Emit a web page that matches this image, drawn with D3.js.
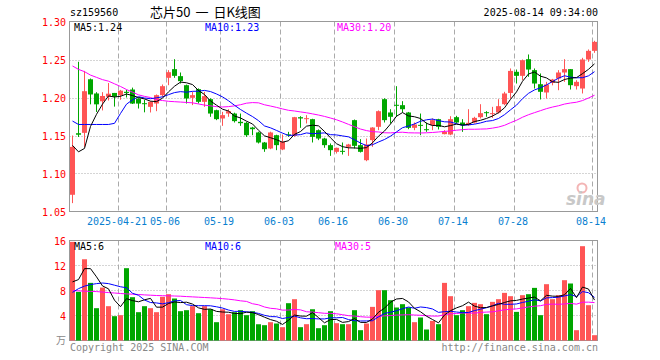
<!DOCTYPE html>
<html><head><meta charset="utf-8">
<script src="https://cdn.jsdelivr.net/npm/d3@7/dist/d3.min.js"></script>
<style>
body{margin:0;background:#fff;}
svg{display:block;}
text{font-family:"DejaVu Sans Mono",monospace;font-size:10px;}
</style>
</head><body>
<svg id="c" width="660" height="360"></svg>
<script>
const dates = [
 "2025-04-09","2025-04-10","2025-04-11","2025-04-14","2025-04-15","2025-04-16","2025-04-17","2025-04-18","2025-04-21","2025-04-22","2025-04-23","2025-04-24","2025-04-25","2025-04-28","2025-04-29","2025-04-30",
 "2025-05-06","2025-05-07","2025-05-08","2025-05-09","2025-05-12","2025-05-13","2025-05-14","2025-05-15","2025-05-16","2025-05-19","2025-05-20","2025-05-21","2025-05-22","2025-05-23","2025-05-26","2025-05-27","2025-05-28","2025-05-29","2025-05-30",
 "2025-06-03","2025-06-04","2025-06-05","2025-06-06","2025-06-09","2025-06-10","2025-06-11","2025-06-12","2025-06-13","2025-06-16","2025-06-17","2025-06-18","2025-06-19","2025-06-20","2025-06-23","2025-06-24","2025-06-25","2025-06-26","2025-06-27","2025-06-30",
 "2025-07-01","2025-07-02","2025-07-03","2025-07-04","2025-07-07","2025-07-08","2025-07-09","2025-07-10","2025-07-11","2025-07-14","2025-07-15","2025-07-16","2025-07-17","2025-07-18","2025-07-21","2025-07-22","2025-07-23","2025-07-24","2025-07-25","2025-07-28","2025-07-29","2025-07-30","2025-07-31",
 "2025-08-01","2025-08-04","2025-08-05","2025-08-06","2025-08-07","2025-08-08","2025-08-11","2025-08-12","2025-08-13","2025-08-14"];

const open = [1.072,1.153,1.1535,1.224,1.2053,1.195,1.201,1.206,1.203,1.2075,1.2105,1.1987,1.1925,1.1877,1.1921,1.2031,
 1.2259,1.2373,1.2281,1.2162,1.1996,1.211,1.1943,1.1978,1.1833,1.1724,1.1789,1.1789,1.168,1.1667,1.1605,1.154,1.1408,1.1329,1.1504,
 1.1316,1.1515,1.1496,1.1741,1.1718,1.1715,1.157,1.146,1.1373,1.1285,1.1298,1.1351,1.1702,1.1373,1.1175,1.1439,1.1614,1.1978,1.1803,1.1904,
 1.1899,1.1803,1.1601,1.164,1.1583,1.1636,1.1715,1.1518,1.1513,1.1741,1.1671,1.1636,1.1671,1.1741,1.1807,1.1785,1.1803,1.1912,1.206,1.2338,1.2285,1.2504,1.236,
 1.2175,1.2066,1.2193,1.225,1.2329,1.2373,1.2149,1.2118,1.25,1.2614];
const high = [1.150,1.247,1.235,1.225,1.207,1.207,1.219,1.206,1.210,1.210,1.213,1.199,1.197,1.195,1.204,1.2171,
 1.236,1.2504,1.2329,1.217,1.2075,1.212,1.2075,1.199,1.184,1.1811,1.1846,1.18,1.1789,1.168,1.1614,1.155,1.1415,1.155,1.151,
 1.1513,1.1548,1.1745,1.1754,1.1768,1.172,1.158,1.147,1.1395,1.134,1.1408,1.139,1.171,1.1452,1.146,1.161,1.183,1.199,1.1846,1.2149,
 1.1952,1.181,1.1671,1.1789,1.1671,1.1724,1.172,1.157,1.1754,1.1759,1.1715,1.1846,1.1746,1.1912,1.182,1.1877,1.1978,1.2075,1.2382,1.2368,1.25,1.2566,1.2382,
 1.2316,1.2206,1.2245,1.236,1.2504,1.2375,1.2228,1.2522,1.2632,1.2746];
const low = [1.061,1.148,1.135,1.191,1.181,1.183,1.196,1.188,1.197,1.200,1.1915,1.1855,1.1805,1.1803,1.182,1.201,
 1.2162,1.2259,1.2184,1.1921,1.19,1.1921,1.1877,1.1746,1.1702,1.1627,1.1746,1.1671,1.1627,1.1482,1.1504,1.1395,1.1285,1.132,1.1307,
 1.1307,1.1482,1.1482,1.1601,1.1658,1.1408,1.1439,1.1338,1.1232,1.1263,1.125,1.1232,1.1329,1.1276,1.1162,1.1351,1.157,1.1671,1.1658,1.1746,
 1.1803,1.1583,1.157,1.1504,1.1548,1.157,1.1579,1.1515,1.1504,1.1658,1.1548,1.1627,1.1658,1.1724,1.1746,1.1732,1.1789,1.1899,1.1987,1.2184,1.2228,1.2272,1.2118,
 1.1974,1.1987,1.216,1.2096,1.2206,1.2105,1.2105,1.2053,1.2469,1.2588];
const close = [1.135,1.151,1.2083,1.204,1.191,1.202,1.205,1.201,1.209,1.206,1.192,1.192,1.1915,1.1943,1.2031,1.2149,
 1.2333,1.2285,1.2215,1.1987,1.2031,1.1943,1.2018,1.1789,1.1715,1.1768,1.182,1.1689,1.1662,1.1504,1.1583,1.1408,1.132,1.154,1.1373,
 1.1417,1.1505,1.1741,1.1724,1.1728,1.1482,1.146,1.1373,1.1307,1.1338,1.1289,1.1382,1.1364,1.1285,1.1382,1.1605,1.182,1.1702,1.1746,1.1895,
 1.1846,1.1601,1.1645,1.1632,1.1575,1.1702,1.1614,1.1548,1.1715,1.1671,1.1636,1.1667,1.1732,1.1794,1.1794,1.1794,1.1886,1.2053,1.235,1.2285,1.2491,1.2368,1.2184,
 1.2075,1.2171,1.2237,1.2329,1.2373,1.2162,1.2206,1.25,1.2614,1.2732];
const volume = [15.78,7.78,13.0,9.22,5.17,8.47,5.49,3.89,4.05,11.57,6.93,4.53,5.49,5.17,4.53,6.99,
 7.41,6.72,4.69,4.85,5.49,4.37,5.49,5.0,2.93,5.0,4.2,4.53,4.85,4.05,4.69,2.6,2.45,2.93,2.72,
 2.13,5.97,6.61,2.13,2.61,5.0,1.97,2.45,4.69,2.77,2.61,2.61,4.85,1.65,2.72,5.38,8.05,8.05,6.45,5.28,
 5.81,5.28,2.93,3.68,1.76,3.14,2.61,9.22,7.09,4.05,4.85,5.49,6.02,5.81,4.21,6.18,6.61,7.62,7.09,4.58,7.25,7.41,8.42,
 4.05,9.01,6.61,7.25,9.65,9.12,1.65,15.09,5.65,0.85];

// moving-average values before enough visible history exists
const priceMA5Head = [1.137,1.1285,1.133,1.162];
const priceMA10Head = [1.169,1.1645,1.1645,1.1645,1.1645,1.1645,1.1645,1.166,1.179];
const priceMA30Head = [1.2415,1.237,1.234,1.2295,1.2265,1.2235,1.2215,1.218,1.2145,1.2105,1.207,1.2035,1.2015,1.2,1.197,1.196,1.195,1.1945,1.194,1.1935,1.193,1.1915,1.19,1.189,1.188,1.1875,1.188,1.189,1.1905];
const volMA5Head = [9.38,9.75,11.5,11.5];
const volMA10Head = [7.7,8.3,8.7,8.95,9.1,9.2,9.1,8.85,8.6];
const volMA30Head = [7.99,7.95,7.89,7.86,7.83,7.75,7.67,7.6,7.52,7.46,7.41,7.36,7.3,7.25,7.2,7.17,7.15,7.12,7.09,7.03,6.98,6.93,6.88,6.83,6.77,6.7,6.61,6.5,6.35];

// legend values as printed on the chart
const priceLegend = ["MA5:1.24", "MA10:1.23", "MA30:1.20"];
const volLegend = ["MA5:6", "MA10:6", "MA30:5"];

const priceTicks = [1.05,1.10,1.15,1.20,1.25,1.30];
const volTicks = [4,8,12,16];
const tickDates = ["2025-04-21","2025-05-06","2025-05-19","2025-06-03","2025-06-16","2025-06-30","2025-07-14","2025-07-28","2025-08-14"];
const tickLabels = ["2025-04-21","05-06","05-19","06-03","06-16","06-30","07-14","07-28","08-14"];

const RED = "#ff5555", GREEN = "#00a600";
const svg = d3.select("#c");

const x = d3.scaleBand().domain(dates).range([70, 597]).paddingInner(1/6).paddingOuter(0);
const bw = x.bandwidth();
const cx = d => x(d) + Math.floor(bw/2) + 0.5;
const y = d3.scaleLinear().domain([1.05, 1.30]).range([211.5, 21.5]);
const yv = d3.scaleLinear().domain([0, 16]).range([340.5, 240.5]);

function movingAvg(vals, n, head) {
  return vals.map((v, i) => i < n - 1 ? head[i] : d3.mean(vals.slice(i - n + 1, i + 1)));
}

const L = 69.5, R = 597.5;
svg.append("g").selectAll("line").data(priceTicks.filter(t => t > 1.06 && t < 1.29)).join("line")
  .attr("x1", L).attr("x2", R).attr("y1", d => Math.round(y(d)) + 0.5).attr("y2", d => Math.round(y(d)) + 0.5)
  .attr("stroke", "#aaa").attr("stroke-dasharray", "1,2");
svg.append("g").selectAll("line").data(volTicks.filter(t => t < 16)).join("line")
  .attr("x1", L).attr("x2", R).attr("y1", d => yv(d)).attr("y2", d => yv(d))
  .attr("stroke", "#aaa").attr("stroke-dasharray", "1,2");
const vg = svg.append("g");
tickDates.forEach(d => {
  const xx = x(d) + 0.5;
  vg.append("line").attr("x1", xx).attr("x2", xx).attr("y1", 21.5).attr("y2", 211.5).attr("stroke", "#aaa").attr("stroke-dasharray", "5,3");
  vg.append("line").attr("x1", xx).attr("x2", xx).attr("y1", 240.5).attr("y2", 340.5).attr("stroke", "#aaa").attr("stroke-dasharray", "5,3");
});

svg.append("rect").attr("x", L).attr("y", 21.5).attr("width", R - L).attr("height", 190).attr("fill", "none").attr("stroke", "#999");
svg.append("rect").attr("x", L).attr("y", 240.5).attr("width", R - L).attr("height", 100).attr("fill", "none").attr("stroke", "#999");

svg.append("g").selectAll("text").data(priceTicks).join("text")
  .attr("x", 66).attr("y", d => y(d) + 4).attr("text-anchor", "end").attr("fill", "#f00")
  .text(d => d.toFixed(2));
svg.append("g").selectAll("text").data(volTicks).join("text")
  .attr("x", 66).attr("y", d => yv(d) + 4).attr("text-anchor", "end").attr("fill", "#f00")
  .text(d => d);
svg.append("text").attr("x", 66).attr("y", 344).attr("text-anchor", "end").attr("fill", "#888")
  .style("font-family", "'Noto Sans CJK SC'").text("万");

svg.append("g").selectAll("text").data(tickDates).join("text")
  .attr("x", d => x(d) - 1).attr("y", 225).attr("text-anchor", "middle").attr("fill", "#0a7fd0")
  .text((d, i) => tickLabels[i]);

const lg = svg.append("g");
lg.append("circle").attr("cx", 582).attr("cy", 188).attr("r", 4.5).attr("fill", "none").attr("stroke", "#f3b5b5").attr("stroke-width", 2);
lg.append("text").attr("x", 566).attr("y", 205).attr("fill", "#c8c8c8")
  .style("font-family", "'DejaVu Sans'").style("font-size", "17px").style("font-weight", "bold").style("font-style", "italic").text("sina");

const idx = d3.range(dates.length);
const cg = svg.append("g");
cg.selectAll("line").data(idx).join("line")
  .attr("x1", i => cx(dates[i])).attr("x2", i => cx(dates[i]))
  .attr("y1", i => y(high[i])).attr("y2", i => y(low[i]))
  .attr("stroke", i => close[i] >= open[i] ? RED : GREEN);
cg.selectAll("rect").data(idx).join("rect")
  .attr("x", i => x(dates[i])).attr("width", bw)
  .attr("y", i => y(Math.max(open[i], close[i])))
  .attr("height", i => Math.max(1, Math.abs(y(open[i]) - y(close[i]))))
  .attr("fill", i => close[i] >= open[i] ? RED : GREEN);

svg.append("g").selectAll("rect").data(idx).join("rect")
  .attr("x", i => x(dates[i])).attr("width", bw)
  .attr("y", i => yv(volume[i])).attr("height", i => yv(0) - yv(volume[i]))
  .attr("fill", i => close[i] >= open[i] ? RED : GREEN);

const pm5 = movingAvg(close, 5, priceMA5Head), pm10 = movingAvg(close, 10, priceMA10Head), pm30 = movingAvg(close, 30, priceMA30Head);
const vm5 = movingAvg(volume, 5, volMA5Head), vm10 = movingAvg(volume, 10, volMA10Head), vm30 = movingAvg(volume, 30, volMA30Head);
const lineP = d3.line().x((v, i) => cx(dates[i])).y(v => y(v));
const lineV = d3.line().x((v, i) => cx(dates[i])).y(v => yv(v));
[[pm30, "#ff00ff"], [pm10, "#0000ff"], [pm5, "#000"]].forEach(([a, c]) =>
  svg.append("path").attr("d", lineP(a)).attr("fill", "none").attr("stroke", c).attr("stroke-width", 1));
[[vm30, "#ff00ff"], [vm10, "#0000ff"], [vm5, "#000"]].forEach(([a, c]) =>
  svg.append("path").attr("d", lineV(a)).attr("fill", "none").attr("stroke", c).attr("stroke-width", 1));

const legendX = [74, 205, 337], legendC = ["#000", "#0000ff", "#ff00ff"];
priceLegend.forEach((t, i) => svg.append("text").attr("x", legendX[i]).attr("y", 31).attr("fill", legendC[i]).text(t));
volLegend.forEach((t, i) => svg.append("text").attr("x", legendX[i] - (i === 2 ? 2 : 0)).attr("y", 250).attr("fill", legendC[i]).text(t));

svg.append("text").attr("x", 70).attr("y", 16).attr("fill", "#000").text("sz159560");
const tt = svg.append("text").attr("x", 150).attr("y", 17).attr("fill", "#000")
  .style("font-family", "'Noto Sans CJK SC'").style("font-size", "13px");
tt.append("tspan").text("芯片50");
tt.append("tspan").attr("dx", 5).text("一");
tt.append("tspan").attr("dx", 5).text("日K线图");
svg.append("text").attr("x", 598).attr("y", 16).attr("text-anchor", "end").attr("fill", "#000").text("2025-08-14 09:34:00");

svg.append("text").attr("x", 70).attr("y", 351).attr("fill", "#888").text("Copyright 2025 SINA.COM");
svg.append("text").attr("x", 598).attr("y", 351).attr("text-anchor", "end").attr("fill", "#888").text("http://finance.sina.com.cn");
</script>
</body></html>
